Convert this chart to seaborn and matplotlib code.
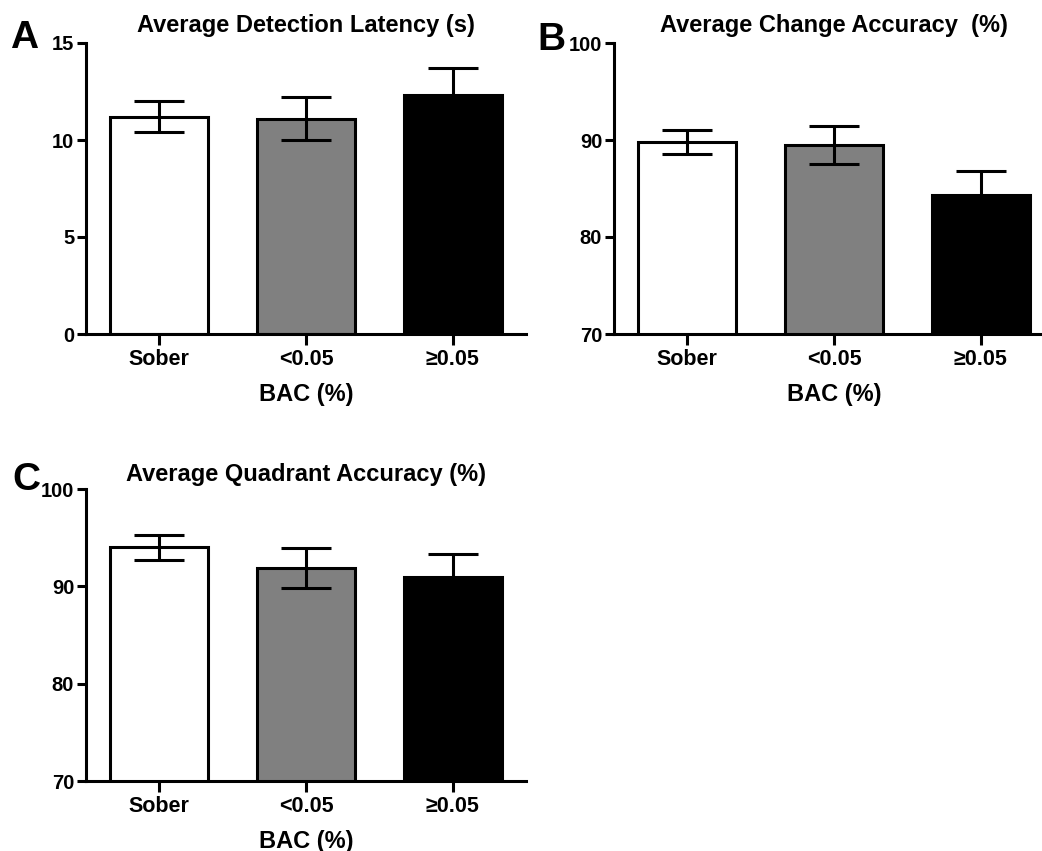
import matplotlib
matplotlib.use("Agg")
import matplotlib.pyplot as plt
import seaborn as sns

# groups on the x axis (blood alcohol concentration)
groups = ["Sober", "<0.05", "\u22650.05"]
bar_colors = ["#ffffff", "#808080", "#000000"]

# panel A: detection latency (s), mean and SEM
latency_mean = [11.2, 11.1, 12.3]
latency_sem = [0.8, 1.1, 1.4]

# panel B: change accuracy (%)
change_mean = [89.8, 89.45, 84.3]
change_sem = [1.25, 1.95, 2.55]

# panel C: quadrant accuracy (%)
quadrant_mean = [94.0, 91.85, 90.95]
quadrant_sem = [1.3, 2.05, 2.4]


def draw_panel(ax, means, sems, ylim, yticks, title, title_pad):
    sns.barplot(x=groups, y=means, hue=groups, palette=bar_colors,
                legend=False, edgecolor="black", linewidth=2.2,
                width=0.67, saturation=1, ax=ax)
    ax.errorbar(range(len(groups)), means, yerr=sems, fmt="none",
                ecolor="black", elinewidth=2.2, capsize=18, capthick=2.2,
                zorder=5)
    ax.set_xlim(-0.5, 2.5)
    ax.set_ylim(*ylim)
    ax.set_yticks(yticks)
    ax.set_title(title, fontsize=17, fontweight="bold", pad=title_pad,
                 color="black")
    ax.set_xlabel("BAC (%)", fontsize=17, fontweight="bold", labelpad=9,
                  color="black")
    ax.set_ylabel("")
    sns.despine(ax=ax)
    for side in ["left", "bottom"]:
        ax.spines[side].set_linewidth(2.2)
        ax.spines[side].set_color("black")
    ax.tick_params(axis="y", length=6.5, width=2.2, pad=2, labelsize=14.5,
                   colors="black")
    ax.tick_params(axis="x", length=8, width=2.2, pad=3, labelsize=15.5,
                   colors="black")


sns.set_style("ticks")
plt.rcParams["font.family"] = ["Liberation Sans", "DejaVu Sans"]
plt.rcParams["font.weight"] = "bold"
plt.rcParams["text.color"] = "black"
plt.rcParams["axes.labelcolor"] = "black"

W, H = 1042, 851
fig = plt.figure(figsize=(W / 100, H / 100), dpi=100)

ax_a = fig.add_axes([86 / W, 1 - 334 / H, 440 / W, 291 / H])
ax_b = fig.add_axes([614 / W, 1 - 334 / H, 440 / W, 291 / H])
ax_c = fig.add_axes([86 / W, 1 - 781 / H, 440 / W, 292 / H])

draw_panel(ax_a, latency_mean, latency_sem, (0, 15), [0, 5, 10, 15],
           "Average Detection Latency (s)", 8)
draw_panel(ax_b, change_mean, change_sem, (70, 100), [70, 80, 90, 100],
           "Average Change Accuracy  (%)", 8)
draw_panel(ax_c, quadrant_mean, quadrant_sem, (70, 100), [70, 80, 90, 100],
           "Average Quadrant Accuracy (%)", 6)

fig.text(10 / W, 1 - 48 / H, "A", fontsize=28, fontweight="bold",
         va="baseline", color="black")
fig.text(537 / W, 1 - 50 / H, "B", fontsize=28, fontweight="bold",
         va="baseline", color="black")
fig.text(12 / W, 1 - 490 / H, "C", fontsize=28, fontweight="bold",
         va="baseline", color="black")

fig.savefig("out.png", dpi=100, facecolor="white")
